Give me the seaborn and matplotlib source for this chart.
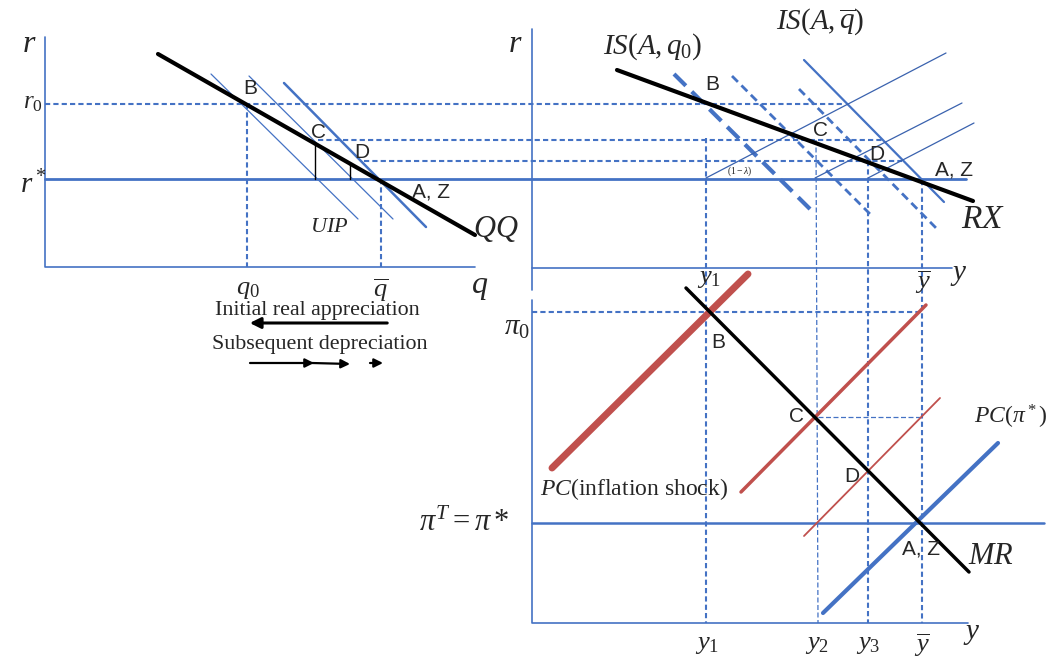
import matplotlib
matplotlib.use("Agg")
import matplotlib.pyplot as plt
import seaborn as sns

# diagram geometry, in picture units (x to the right, y downwards)
LEFT_AXES = [[(45, 37), (45, 267), (475, 267)]]
RIGHT_TOP_AXES = [[(532, 29), (532, 290)], [(532, 268), (952, 268)]]
RIGHT_BOT_AXES = [[(532, 300), (532, 623), (968, 623)]]

R_STAR = [(45, 179), (966, 179)]
PI_STAR = [(532, 523), (1044, 523)]

QQ = [(158, 54), (475, 235)]
UIP = [[(211, 74), (358, 219)], [(249, 76), (393, 219)]]
UIP_NEW = [(284, 83), (426, 227)]
RX = [(617, 70), (973, 201)]
IS_Q0 = [(674, 74), (814, 213)]
IS_MID = [[(732, 76), (873, 217)], [(799, 89), (939, 231)]]
IS_QBAR = [(804, 60), (944, 202)]
ADJUST = [[(706, 178), (946, 53)], [(815, 178), (962, 103)], [(868, 178), (974, 123)]]
STEPS = [[(315, 143), (315, 179)], [(350, 163), (350, 179)]]

MR = [(686, 288), (969, 572)]
PC_SHOCK = [(552, 468), (748, 274)]
PC_2 = [(741, 492), (926, 305)]
PC_3 = [(804, 536), (940, 398)]
PC_STAR = [(823, 613), (998, 443)]

DASH_H = [[(45, 104), (845, 104)], [(318, 140), (883, 140)], [(364, 161), (902, 161)],
          [(532, 312), (922, 312)]]
DASH_V = [[(247, 104), (247, 267)], [(381, 179), (381, 267)], [(706, 138), (706, 623)],
          [(868, 161), (868, 623)], [(922, 180), (922, 623)]]
DASH_THIN = [[(816, 140), (818, 623)], [(818, 417), (922, 417)]]

ARROW_LEFT = [(390, 323), (247, 323)]
ARROWS_RIGHT = [[(250, 363), (314, 363)], [(312, 363), (350, 364)], [(370, 363), (383, 363)]]

BLUE = '#4472C4'
DBLUE = '#3A62AE'
RED = '#C0504D'

sns.set_style('white')
plt.rcParams['font.family'] = ['Liberation Serif', 'DejaVu Serif']
plt.rcParams['mathtext.fontset'] = 'custom'
plt.rcParams['mathtext.rm'] = 'Liberation Serif'
plt.rcParams['mathtext.it'] = 'Liberation Serif:italic'
plt.rcParams['mathtext.sf'] = 'Liberation Sans'

fig = plt.figure(figsize=(10.5, 6.58), dpi=100)
ax = fig.add_axes([0, 0, 1, 1])
ax.set_xlim(0, 1050)
ax.set_ylim(658, 0)
ax.axis('off')


def seg(points, color, lw, ls='-', z=2):
    xs = [p[0] for p in points]
    ys = [p[1] for p in points]
    sns.lineplot(x=xs, y=ys, sort=False, estimator=None, ax=ax, color=color,
                 lw=lw, linestyle=ls, zorder=z, solid_capstyle='round')


for pts in LEFT_AXES + RIGHT_TOP_AXES + RIGHT_BOT_AXES:
    seg(pts, BLUE, 1.2)
seg(R_STAR, BLUE, 2.0)
seg(PI_STAR, BLUE, 1.8)

for pts in DASH_H + DASH_V:
    seg(pts, BLUE, 1.5, (0, (2.5, 1.5)))
for pts in DASH_THIN:
    seg(pts, BLUE, 0.9, (0, (4, 2)))

for pts in UIP:
    seg(pts, BLUE, 0.9)
seg(UIP_NEW, BLUE, 1.8)
for pts in STEPS:
    seg(pts, 'black', 1.0)
seg(QQ, 'black', 3.0, z=4)

seg(IS_Q0, BLUE, 3.0, (0, (4, 2)))
for pts in IS_MID:
    seg(pts, BLUE, 2.0, (0, (3, 1.8)))
seg(IS_QBAR, BLUE, 1.6)
for pts in ADJUST:
    seg(pts, DBLUE, 0.9)
seg(RX, 'black', 3.0, z=4)

seg(PC_SHOCK, RED, 5.0)
seg(PC_2, RED, 2.5)
seg(PC_3, RED, 1.3)
seg(PC_STAR, BLUE, 3.0)
seg(MR, 'black', 2.5, z=4)

ax.annotate('', xy=ARROW_LEFT[1], xytext=ARROW_LEFT[0],
            arrowprops=dict(arrowstyle='-|>', color='black', lw=2.2, mutation_scale=16))
for a, b in ARROWS_RIGHT:
    ax.annotate('', xy=b, xytext=a,
                arrowprops=dict(arrowstyle='-|>', color='black', lw=1.6, mutation_scale=13,
                                shrinkA=0, shrinkB=0))

labels_it = [
    ('$r$', 29, 45, 23), ('$r_0$', 33, 103, 18), ('$r^*$', 33, 185, 21),
    ('$q_0$', 248, 290, 19), ('$\\overline{q}$', 381, 290, 19), ('$q$', 480, 287, 23),
    ('$UIP$', 329, 228, 16), ('$QQ$', 496, 229, 22),
    ('$r$', 515, 45, 23), ('$IS(A,q_0)$', 653, 47, 21), ('$IS(A,\\overline{q})$', 820, 22, 21),
    ('$RX$', 983, 220, 24), ('$(1-\\lambda)$', 740, 171, 7),
    ('$y_1$', 709, 279, 19), ('$\\overline{y}$', 923, 282, 19), ('$y$', 959, 275, 21),
    ('$\\pi_0$', 517, 328, 21), ('$\\pi^T = \\pi*$', 464, 523, 22),
    ('$MR$', 991, 556, 22), ('$PC(\\pi^*)$', 1011, 417, 17),
    ('$PC$(inflation shock)', 634, 489, 17),
    ('$y_1$', 707, 645, 19), ('$y_2$', 817, 645, 19), ('$y_3$', 868, 645, 19),
    ('$\\overline{y}$', 922, 645, 19), ('$y$', 972, 634, 21),
]
for t, x, y, s in labels_it:
    ax.text(x, y, t, fontsize=s, ha='center', va='center', zorder=6)

labels_pt = [
    ('B', 250, 89), ('C', 318, 132), ('D', 362, 152), ('A, Z', 431, 192),
    ('B', 712, 85), ('C', 820, 130), ('D', 877, 155), ('A, Z', 954, 170),
    ('B', 718, 342), ('C', 796, 416), ('D', 852, 477), ('A, Z', 921, 549),
]
for t, x, y in labels_pt:
    ax.text(x, y, t, fontsize=15, family='Liberation Sans', ha='center', va='center', zorder=6)

ax.text(317, 311, 'Initial real appreciation', fontsize=15.8, ha='center', va='center')
ax.text(320, 344, 'Subsequent depreciation', fontsize=15.8, ha='center', va='center')

fig.savefig('out.png', dpi=100)
